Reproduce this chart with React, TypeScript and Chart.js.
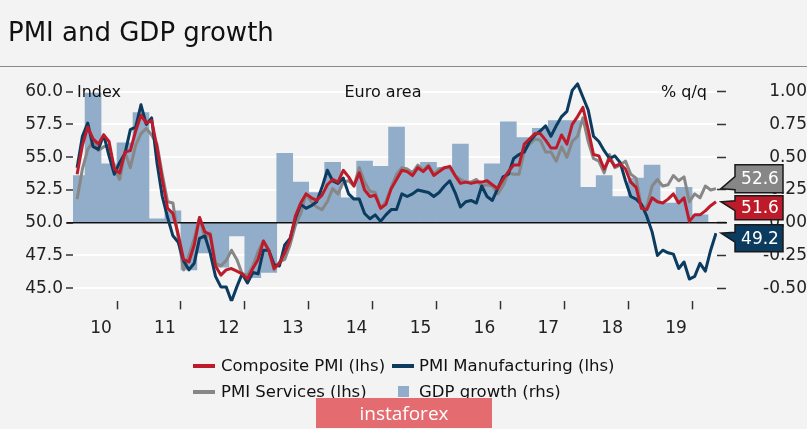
import React, { useEffect, useRef } from 'react';
import { Chart, registerables } from 'chart.js';

Chart.register(...registerables);

const TITLE = 'PMI and GDP growth';
const REGION = 'Euro area';
const LEFT_UNIT = 'Index';
const RIGHT_UNIT = '% q/q';

// Monthly series start February 2010
const START_YEAR = 2010;
const START_MONTH = 2;

const COMPOSITE = [
  53.7, 55.9, 57.3, 56.4, 56.0, 56.7, 56.2, 54.1, 53.8, 55.4, 55.5,
  57.0, 58.2, 57.6, 57.8, 55.8, 53.3, 51.1, 50.7, 49.1, 47.2, 47.0, 48.3,
  50.4, 49.3, 49.1, 46.7, 46.0, 46.4, 46.5, 46.3, 46.1, 45.7, 46.5, 47.2,
  48.6, 47.9, 46.5, 46.9, 47.7, 48.7, 50.5, 51.5, 52.2, 51.9, 51.7, 52.1,
  52.9, 53.3, 53.1, 54.0, 53.5, 52.8, 53.8, 52.5, 52.0, 52.1, 51.1, 51.4,
  52.6, 53.3, 54.0, 53.9, 53.6, 54.2, 53.9, 54.3, 53.6, 53.9, 54.2, 54.3,
  53.6, 53.0, 53.1, 53.0, 53.1, 53.1, 53.2, 52.9, 52.6, 53.3, 53.9, 54.4,
  54.4, 56.0, 56.4, 56.8, 56.8, 56.3, 55.7, 55.7, 56.7, 56.0, 57.5, 58.1,
  58.8, 57.1, 55.2, 55.1, 54.1, 54.9, 54.3, 54.5, 54.1, 53.1, 52.7, 51.1,
  51.0, 51.9, 51.6, 51.5, 51.8, 52.2, 51.5, 51.9, 50.1, 50.6, 50.6, 50.9,
  51.3, 51.6,
];

const MANUFACTURING = [
  54.2, 56.6, 57.6, 55.8, 55.6, 56.7, 55.1, 53.7, 54.6, 55.3, 57.1,
  57.3, 59.0, 57.5, 58.0, 54.6, 52.0, 50.4, 49.0, 48.5, 47.1, 46.4, 46.9,
  48.8, 49.0, 47.7, 45.9, 45.1, 45.1, 44.0, 45.1, 46.1, 45.4, 46.2, 46.1,
  47.9, 47.9, 46.8, 46.7, 48.3, 48.8, 50.3, 51.4, 51.1, 51.3, 51.6, 52.7,
  54.0, 53.2, 53.0, 53.4, 52.2, 51.8, 51.8, 50.7, 50.3, 50.6, 50.1, 50.6,
  51.0, 51.0, 52.2, 52.0, 52.2, 52.5, 52.4, 52.3, 52.0, 52.3, 52.8, 53.2,
  52.3, 51.2, 51.6, 51.7, 51.5, 52.8, 52.0, 51.7, 52.6, 53.5, 53.7, 54.9,
  55.2, 55.4, 56.2, 56.7, 57.0, 57.4, 56.6, 57.4, 58.1, 58.5, 60.1, 60.6,
  59.6, 58.6, 56.6, 56.2, 55.5, 54.9, 55.1, 54.6, 53.2, 52.0, 51.8, 51.4,
  50.5, 49.3, 47.5, 47.9, 47.7, 47.6, 46.5, 47.0, 45.7, 45.9, 46.9, 46.3,
  47.9, 49.2,
];

const SERVICES = [
  51.8, 54.1, 55.6, 56.2, 55.5, 55.8, 55.9, 54.1, 53.3, 55.4, 54.2,
  55.9, 56.8, 57.2, 56.7, 56.0, 53.7, 51.6, 51.5, 48.8, 46.4, 47.5, 48.8,
  50.4, 48.8, 49.2, 46.9, 46.7, 47.1, 47.9, 47.2, 46.1, 46.0, 46.7, 47.8,
  48.6, 47.9, 46.4, 47.0, 47.2, 48.3, 49.8, 50.7, 52.2, 51.6, 51.2, 51.0,
  51.6, 52.6, 52.2, 53.1, 53.2, 52.8, 54.2, 53.1, 52.4, 52.3, 51.1, 51.6,
  52.7, 53.7, 54.2, 54.1, 53.8, 54.4, 54.0, 54.4, 53.7, 54.1, 54.2, 54.2,
  53.6, 53.3, 53.1, 53.1, 53.3, 52.8, 52.9, 52.8, 52.2, 52.8, 53.8, 53.7,
  53.7, 55.5, 56.0, 56.4, 56.3, 55.4, 55.4, 54.7, 55.8, 55.0, 56.2, 56.6,
  58.0, 56.2, 54.9, 54.7, 53.8, 55.2, 54.2, 54.4, 54.7, 53.7, 53.4, 51.2,
  51.2, 52.8, 53.3, 52.8, 52.9, 53.6, 53.2, 53.5, 51.6, 52.2, 51.9, 52.8,
  52.5, 52.6,
];

// Quarterly GDP growth, Q1 2010 .. Q4 2019
const GDP_START_YEAR = 2010;
const GDP = [
  0.36, 0.99, 0.45, 0.61,
  0.84, 0.03, 0.09, -0.36,
  -0.23, -0.34, -0.10, -0.42,
  -0.38, 0.53, 0.31, 0.23,
  0.46, 0.19, 0.47, 0.43,
  0.73, 0.40, 0.46, 0.42,
  0.60, 0.31, 0.45, 0.77,
  0.65, 0.72, 0.78, 0.78,
  0.27, 0.36, 0.20, 0.34,
  0.44, 0.15, 0.27, 0.06,
];

const LEFT_TICKS = [45, 47.5, 50, 52.5, 55, 57.5, 60];
const RIGHT_TICKS = [-0.5, -0.25, 0, 0.25, 0.5, 0.75, 1.0];
const YEAR_LABELS = ['10', '11', '12', '13', '14', '15', '16', '17', '18', '19'];
const YEAR_BOUNDARIES = [2011, 2012, 2013, 2014, 2015, 2016, 2017, 2018, 2019, 2020];

const LEGEND_COMPOSITE = 'Composite PMI (lhs)';
const LEGEND_MANUF = 'PMI Manufacturing (lhs)';
const LEGEND_SERVICES = 'PMI Services (lhs)';
const LEGEND_GDP = 'GDP growth (rhs)';

const RED = '#be1b2a';
const NAVY = '#0b3b5e';
const GREY = '#878787';
const BAR = '#91adc9';
const BG = '#f3f3f3';
const FONT = "'DejaVu Sans', sans-serif";

const monthX = (i: number) => START_YEAR + (START_MONTH - 1 + i + 0.5) / 12;
const quarterX = (i: number) => GDP_START_YEAR + (i * 3 + 1.5) / 12;
const toPoints = (arr: number[]) => arr.map((v, i) => ({ x: monthX(i), y: v }));

const X_TICKS: number[] = [];
YEAR_LABELS.forEach((_, i) => {
  X_TICKS.push(START_YEAR + i + 0.5);
  X_TICKS.push(YEAR_BOUNDARIES[i]);
});

const overlayPlugin = {
  id: 'overlay',
  afterDatasetDraw(chart: any, args: any) {
    if (args.index !== 3) return;
    const { ctx, chartArea } = chart;
    const y = chart.scales.y.getPixelForValue(50);
    ctx.save();
    ctx.strokeStyle = '#111';
    ctx.lineWidth = 1.6;
    ctx.beginPath();
    ctx.moveTo(chartArea.left - 6, y);
    ctx.lineTo(chartArea.right + 10, y);
    ctx.stroke();
    ctx.restore();
  },
  afterDraw(chart: any) {
    const { ctx, chartArea } = chart;
    const yS = chart.scales.y;
    const ly = yS.getPixelForValue(60) + 1;
    ctx.save();
    ctx.fillStyle = '#111';
    ctx.font = `16px ${FONT}`;
    ctx.textBaseline = 'middle';
    ctx.textAlign = 'left';
    ctx.fillText(LEFT_UNIT, chartArea.left + 4, ly);
    ctx.textAlign = 'center';
    ctx.fillText(REGION, chartArea.left + 310, ly);
    ctx.textAlign = 'right';
    ctx.fillText(RIGHT_UNIT, chartArea.right - 10, ly);

    const callouts = [
      { values: SERVICES, color: GREY, top: -24, bottom: 4, notch: [-12, 1] },
      { values: COMPOSITE, color: RED, top: -6, bottom: 18, notch: [-1, 9] },
      { values: MANUFACTURING, color: NAVY, top: -8.5, bottom: 18.5, notch: [-1, 9] },
    ];
    const tipX = chartArea.right + 4;
    const bl = chartArea.right + 18;
    const br = chartArea.right + 66;
    callouts.forEach((c) => {
      const v = c.values[c.values.length - 1];
      const ty = yS.getPixelForValue(v);
      const top = ty + c.top;
      const bottom = ty + c.bottom;
      ctx.beginPath();
      ctx.moveTo(bl, top);
      ctx.lineTo(br, top);
      ctx.lineTo(br, bottom);
      ctx.lineTo(bl, bottom);
      ctx.lineTo(bl, ty + c.notch[1]);
      ctx.lineTo(tipX, ty);
      ctx.lineTo(bl, ty + c.notch[0]);
      ctx.closePath();
      ctx.fillStyle = c.color;
      ctx.fill();
      ctx.strokeStyle = '#1a1a1a';
      ctx.lineWidth = 1.5;
      ctx.stroke();
      ctx.fillStyle = '#ffffff';
      ctx.font = `17px ${FONT}`;
      ctx.textAlign = 'center';
      ctx.textBaseline = 'middle';
      ctx.fillText(v.toFixed(1), (bl + br) / 2 + 1, (top + bottom) / 2 + 1);
    });
    ctx.restore();
  },
};

export default function App() {
  const canvasRef = useRef<HTMLCanvasElement | null>(null);

  useEffect(() => {
    document.body.style.margin = '0';
    const canvas = canvasRef.current;
    if (!canvas) return;
    const chart = new Chart(canvas, {
      type: 'line',
      data: {
        datasets: [
          {
            type: 'line',
            label: LEGEND_COMPOSITE,
            data: toPoints(COMPOSITE),
            borderColor: RED,
            borderWidth: 3,
            pointRadius: 0,
            tension: 0,
            borderJoinStyle: 'round',
            yAxisID: 'y',
          },
          {
            type: 'line',
            label: LEGEND_MANUF,
            data: toPoints(MANUFACTURING),
            borderColor: NAVY,
            borderWidth: 3,
            pointRadius: 0,
            tension: 0,
            borderJoinStyle: 'round',
            yAxisID: 'y',
          },
          {
            type: 'line',
            label: LEGEND_SERVICES,
            data: toPoints(SERVICES),
            borderColor: GREY,
            borderWidth: 3,
            pointRadius: 0,
            tension: 0,
            borderJoinStyle: 'round',
            yAxisID: 'y',
          },
          {
            type: 'bar',
            label: LEGEND_GDP,
            data: GDP.map((v, i) => ({ x: quarterX(i), y: v })),
            backgroundColor: BAR,
            borderWidth: 0,
            barPercentage: 1,
            categoryPercentage: 1,
            yAxisID: 'y1',
          },
        ] as any,
      },
      options: {
        responsive: false,
        animation: false,
        layout: { padding: { top: 78.6, left: 0, right: 0, bottom: 87.7 } },
        plugins: { legend: { display: false }, tooltip: { enabled: false } },
        scales: {
          x: {
            type: 'linear',
            min: 2010.061,
            max: 2020.141,
            offset: false,
            afterBuildTicks: (s: any) => {
              s.ticks = X_TICKS.map((v) => ({ value: v }));
            },
            afterFit: (s: any) => {
              s.height = 40;
            },
            grid: {
              drawOnChartArea: false,
              drawTicks: true,
              tickLength: 8,
              tickWidth: 1.5,
              tickColor: (c: any) =>
                c.tick && Number.isInteger(c.tick.value) ? '#333' : 'rgba(0,0,0,0)',
            },
            border: { display: false },
            ticks: {
              autoSkip: false,
              maxRotation: 0,
              minRotation: 0,
              padding: 9,
              color: '#222',
              font: { family: FONT, size: 17 },
              callback: (value: any) => {
                const v = Number(value);
                return Number.isInteger(v) ? '' : YEAR_LABELS[Math.floor(v) - START_YEAR];
              },
            },
          },
          y: {
            type: 'linear',
            position: 'left',
            min: 44,
            max: 61,
            afterBuildTicks: (s: any) => {
              s.ticks = LEFT_TICKS.map((v) => ({ value: v }));
            },
            afterFit: (s: any) => {
              s.width = 73;
            },
            grid: {
              color: '#ffffff',
              lineWidth: 2,
              drawTicks: true,
              tickLength: 7,
              tickWidth: 1.5,
              tickColor: '#333',
            },
            border: { display: false },
            ticks: {
              padding: 3,
              color: '#222',
              font: { family: FONT, size: 17 },
              callback: (v: any) => Number(v).toFixed(1),
            },
          },
          y1: {
            type: 'linear',
            position: 'right',
            min: -0.6,
            max: 1.1,
            afterBuildTicks: (s: any) => {
              s.ticks = RIGHT_TICKS.map((v) => ({ value: v }));
            },
            afterFit: (s: any) => {
              s.width = 90;
            },
            grid: {
              drawOnChartArea: false,
              drawTicks: true,
              tickLength: 9,
              tickWidth: 1.5,
              tickColor: '#333',
            },
            border: { display: false },
            ticks: {
              padding: 18,
              crossAlign: 'far',
              color: '#222',
              font: { family: FONT, size: 17 },
              callback: (v: any) => Number(v).toFixed(2),
            },
          },
        },
      } as any,
      plugins: [overlayPlugin],
    });
    return () => chart.destroy();
  }, []);

  const legendText: React.CSSProperties = {
    position: 'absolute',
    fontFamily: FONT,
    fontSize: 16.5,
    lineHeight: '20px',
    color: '#111',
    whiteSpace: 'nowrap',
  };
  const swatch = (left: number, top: number, color: string): React.CSSProperties => ({
    position: 'absolute',
    left,
    top,
    width: 22,
    height: 4,
    background: color,
  });

  return (
    <div style={{ position: 'relative', width: 807, height: 429, background: BG, overflow: 'hidden' }}>
      <canvas ref={canvasRef} width={807} height={429} style={{ position: 'absolute', left: 0, top: 0 }} />
      <div
        style={{
          position: 'absolute',
          left: 8,
          top: 17,
          fontFamily: FONT,
          fontSize: 26,
          lineHeight: '30px',
          color: '#111',
          whiteSpace: 'nowrap',
        }}
      >
        {TITLE}
      </div>
      <div style={{ position: 'absolute', left: 0, top: 66, width: 807, height: 1, background: '#8a8a8a' }} />

      <div style={swatch(193, 364, RED)} />
      <div style={{ ...legendText, left: 221, top: 356 }}>{LEGEND_COMPOSITE}</div>
      <div style={swatch(392, 364, NAVY)} />
      <div style={{ ...legendText, left: 419, top: 356 }}>{LEGEND_MANUF}</div>
      <div style={swatch(193, 390, GREY)} />
      <div style={{ ...legendText, left: 221, top: 382 }}>{LEGEND_SERVICES}</div>
      <div style={{ position: 'absolute', left: 398, top: 386, width: 11, height: 11, background: BAR }} />
      <div style={{ ...legendText, left: 419, top: 382 }}>{LEGEND_GDP}</div>

      <div
        style={{
          position: 'absolute',
          left: 316,
          top: 398,
          width: 176,
          height: 30,
          background: '#e46b6f',
          color: '#ffffff',
          fontFamily: "'Open Sans', sans-serif",
          fontSize: 19,
          lineHeight: '30px',
          textAlign: 'center',
        }}
      >
        instaforex
      </div>
    </div>
  );
}
